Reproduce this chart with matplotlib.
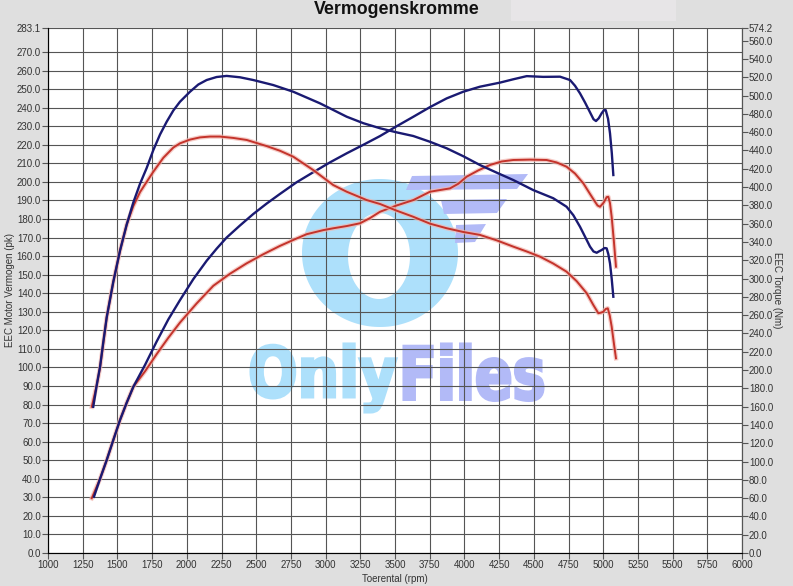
import numpy as np
import matplotlib
matplotlib.use("Agg")
import matplotlib.pyplot as plt
import matplotlib.transforms as mtransforms
from matplotlib.path import Path
from matplotlib.patches import PathPatch, Polygon, Rectangle
from matplotlib.textpath import TextPath
from matplotlib.font_manager import FontProperties

# --- DATA ---
# tuned torque (Nm), blue
tq_tuned_rpm = [1326, 1350, 1375, 1399, 1423, 1470, 1519, 1567, 1615, 1663, 1711, 1759, 1807,
                1855, 1903, 1951, 2023, 2083, 2143, 2215, 2287, 2383, 2479, 2623, 2767, 2960,
                3152, 3272, 3392, 3512, 3632, 3752, 3872, 3992, 4112, 4232, 4352, 4496, 4640,
                4736, 4785, 4833, 4869, 4905, 4930, 4953, 4971, 4989, 5010, 5025, 5037, 5049,
                5061, 5073]
tq_tuned = [159.8, 182.5, 203.6, 231.2, 257.6, 296.1, 330.6, 359.0, 383.3, 403.6, 420.9, 440.5,
            457.4, 471.4, 483.7, 493.3, 504.2, 512.1, 517.0, 520.3, 521.5, 520.0, 517.0, 511.5,
            504.2, 491.5, 476.9, 469.8, 464.3, 459.8, 455.8, 449.5, 442.4, 433.7, 424.1, 415.8,
            407.7, 396.7, 387.8, 378.5, 369.2, 356.6, 345.8, 334.9, 329.6, 328.2, 329.8, 331.2,
            333.4, 333.0, 326.6, 316.6, 300.2, 280.1]

# stock torque (Nm), red
tq_stock_rpm = [1315, 1350, 1375, 1399, 1423, 1470, 1519, 1567, 1615, 1663, 1711, 1759, 1831,
                1903, 1951, 2023, 2095, 2167, 2239, 2335, 2431, 2575, 2671, 2767, 2911, 3055,
                3152, 3296, 3392, 3512, 3632, 3752, 3872, 3992, 4112, 4232, 4352, 4449, 4545,
                4640, 4736, 4809, 4881, 4930, 4965, 4983, 5001, 5018, 5033, 5047, 5061, 5077,
                5092]
tq_stock = [159.8, 182.5, 202.8, 230.2, 257.6, 296.1, 330.6, 359.0, 379.3, 394.5, 405.7, 416.8,
            432.0, 443.2, 447.8, 451.9, 454.3, 455.2, 455.2, 453.7, 451.5, 444.8, 439.7, 433.2,
            418.6, 402.2, 394.9, 385.8, 381.5, 374.2, 367.5, 360.0, 355.0, 350.9, 347.7, 341.8,
            334.9, 329.6, 323.9, 316.4, 307.5, 297.1, 284.0, 270.8, 262.1, 262.7, 263.7, 266.7,
            267.5, 259.6, 247.5, 229.2, 212.8]

# tuned power (pk), blue
pk_tuned_rpm = [1331, 1375, 1423, 1471, 1519, 1567, 1615, 1700, 1783, 1867, 1951, 2047, 2143,
                2215, 2287, 2383, 2479, 2575, 2671, 2791, 2911, 3031, 3152, 3272, 3392, 3512,
                3632, 3752, 3872, 3992, 4112, 4256, 4352, 4449, 4568, 4689, 4761, 4797, 4833,
                4869, 4905, 4930, 4948, 4968, 4989, 5005, 5018, 5035, 5049, 5062, 5073]
pk_tuned = [30.3, 40.0, 50.1, 61.0, 71.7, 81.0, 89.6, 101.5, 114.0, 125.9, 136.3, 147.6, 157.5,
            164.0, 170.0, 176.5, 182.7, 188.3, 193.5, 199.8, 205.2, 210.5, 215.4, 220.0, 224.7,
            230.0, 235.1, 240.3, 245.0, 248.6, 251.3, 253.5, 255.3, 257.0, 256.6, 256.7, 254.9,
            251.8, 247.7, 242.8, 237.5, 233.8, 232.8, 234.3, 237.0, 238.6, 238.7, 234.0, 226.2,
            215.5, 203.7]

# stock power (pk), red
pk_stock_rpm = [1315, 1375, 1423, 1471, 1519, 1567, 1615, 1700, 1783, 1867, 1951, 2071, 2191,
                2311, 2431, 2551, 2671, 2791, 2863, 2983, 3055, 3152, 3248, 3320, 3392, 3512,
                3632, 3752, 3896, 3956, 4016, 4100, 4184, 4268, 4352, 4472, 4592, 4664, 4736,
                4797, 4857, 4905, 4941, 4959, 4977, 5005, 5025, 5037, 5049, 5061, 5077, 5092]
pk_stock = [29.5, 40.0, 50.1, 61.0, 71.7, 81.0, 89.6, 98.0, 107.2, 116.0, 124.2, 134.5, 144.0,
            150.5, 156.1, 161.0, 165.5, 169.5, 171.8, 174.0, 175.0, 176.2, 177.7, 180.5, 183.9,
            187.3, 190.2, 194.7, 196.5, 199.0, 202.8, 206.2, 209.1, 211.0, 211.8, 212.0, 211.8,
            210.5, 208.2, 204.5, 199.2, 193.5, 189.3, 187.3, 186.6, 189.0, 191.8, 192.0, 188.5,
            181.2, 168.0, 154.3]

x_ticks = list(range(1000, 6001, 250))
pk_ticks = list(range(0, 271, 10)) + [283.1]
nm_ticks = list(range(0, 561, 20)) + [574.2]

BLUE = "#1a1a72"
RED = "#c4332b"
plt.rcParams["font.family"] = ["Liberation Sans", "DejaVu Sans"]

fig = plt.figure(figsize=(7.93, 5.86), dpi=100, facecolor="#dfdfdf")
ax = fig.add_axes([48 / 793, 33 / 586, 694 / 793, 525.3 / 586])
ax.set_facecolor("white")
ax.set_xlim(1000, 6000)
ax.set_ylim(0, 283.1)
ax.set_xticks(x_ticks)
ax.set_yticks(pk_ticks)
ax.set_yticklabels([f"{v:.1f}" for v in pk_ticks])
ax.grid(True, color="#555555", linewidth=0.8)
ax.set_axisbelow(True)
ax.tick_params(labelsize=7, length=4, width=0.8, color="#555555", labelcolor="#333333", pad=1)
for side in ["left", "bottom", "right"]:
    ax.spines[side].set_color("#555555")
ax.spines["top"].set_visible(False)
ax.set_xlabel("Toerental (rpm)", fontsize=7, color="#333333", labelpad=3)
ax.set_ylabel("EEC Motor Vermogen (pk)", fontsize=7, color="#333333", labelpad=1.5)

ax2 = ax.twinx()
ax2.set_ylim(0, 574.2)
ax2.set_yticks(nm_ticks)
ax2.set_yticklabels([f"{v:.1f}" for v in nm_ticks])
ax2.tick_params(labelsize=7, length=4, width=0.8, color="#555555", labelcolor="#333333", pad=1)
ax2.spines["top"].set_visible(False)
ax2.spines["right"].set_color("#555555")
ax2.set_ylabel("EEC Torque (Nm)", fontsize=7, color="#333333", rotation=-90, labelpad=6.5)

# --- watermark, drawn under the grid, in picture pixel coordinates ---
px = mtransforms.Affine2D().scale(1 / 793, -1 / 586).translate(0, 1) + fig.transFigure
LIGHT = "#ade0fb"
LAV = "#b2baf7"

t = np.linspace(0, 2 * np.pi, 181)
outer = np.column_stack([380 + 78 * np.cos(t), 253 + 74 * np.sin(t)])
inner = np.column_stack([379 + 31 * np.cos(-t), 256 + 43 * np.sin(-t)])
codes = [Path.MOVETO] + [Path.LINETO] * (len(t) - 1)
ring = Path(np.vstack([outer, inner]), codes + codes)
ax.add_patch(PathPatch(ring, transform=px, facecolor=LIGHT, edgecolor="none", zorder=0.3))

for pts in ([(412, 176), (528, 174), (517, 189), (406, 190)],
            [(441, 200), (507, 199), (497, 213), (444, 214)],
            [(456, 225), (486, 224), (475, 242), (455, 243)]):
    ax.add_patch(Polygon(pts, closed=True, transform=px, facecolor=LAV,
                         edgecolor="none", zorder=0.3))

fp = FontProperties(family="DejaVu Sans", weight="bold")


def word(s, x0, x1, ytop, ybot, color):
    tp = TextPath((0, 0), s, size=1, prop=fp)
    bb = tp.get_extents()
    tr = (mtransforms.Affine2D().translate(-bb.x0, -bb.y0)
          .scale((x1 - x0) / bb.width, -(ybot - ytop) / bb.height)
          .translate(x0, ybot) + px)
    ax.add_patch(PathPatch(tp, transform=tr, facecolor=color, edgecolor=color,
                           linewidth=2.2, zorder=0.3))


word("Only", 251, 396, 344, 412, LIGHT)
word("Files", 404, 543, 344, 400.5, LAV)

# stock (red) with a soft halo, tuned (blue)
ax.plot(pk_stock_rpm, pk_stock, color="#f2b7b0", lw=3.2, alpha=0.7)
ax.plot(pk_stock_rpm, pk_stock, color=RED, lw=1.4)
ax2.plot(tq_stock_rpm, tq_stock, color="#f2b7b0", lw=3.2, alpha=0.7)
ax2.plot(tq_stock_rpm, tq_stock, color=RED, lw=1.4)
ax.plot(pk_tuned_rpm, pk_tuned, color=BLUE, lw=1.7)
ax2.plot(tq_tuned_rpm, tq_tuned, color=BLUE, lw=1.7)

fig.text(0.5, 1 - 9.5 / 586, "Vermogenskromme", ha="center", va="center",
         fontsize=12.8, fontweight="bold", color="#111111")
fig.patches.append(Rectangle((511 / 793, 1 - 21 / 586), 165 / 793, 21 / 586,
                             transform=fig.transFigure, facecolor="#e7e5e7",
                             edgecolor="none", zorder=-1))

fig.savefig("out.png", dpi=100, facecolor=fig.get_facecolor())
